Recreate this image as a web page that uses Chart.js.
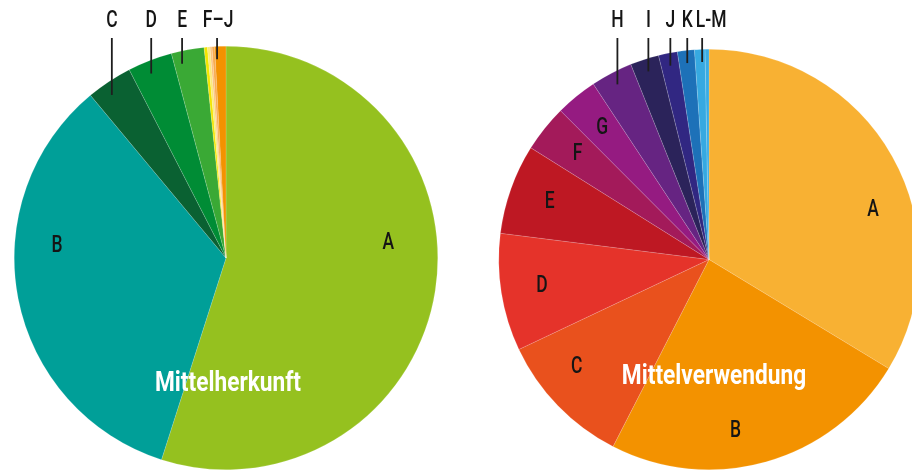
<!DOCTYPE html>
<html>
<head>
<meta charset="utf-8">
<script src="https://cdn.jsdelivr.net/npm/chart.js@4/dist/chart.umd.min.js"></script>
<style>
  html, body { margin: 0; padding: 0; background: #fff; }
  body { width: 912px; height: 470px; overflow: hidden; position: relative; }
  .pie { position: absolute; top: 0; width: 452px; height: 470px; }
  #left { left: 0; }
  #right { left: 483px; }
</style>
</head>
<body>
<div class="pie" id="left"><canvas id="herkunftChart"></canvas></div>
<div class="pie" id="right"><canvas id="verwendungChart"></canvas></div>

<script>
// ===== Mittelherkunft / Mittelverwendung =====

// left pie: Mittelherkunft (share in %)
const herkunftLabels = ["A", "B", "C", "D", "E", "F", "G", "H", "I", "J"];
const herkunftValues = [54.9, 34.0, 3.5, 3.4, 2.5, 0.25, 0.2, 0.15, 0.2, 0.85];
const herkunftColors = ["#95c11f", "#009f98", "#0a6132", "#008c35", "#3aa935",
                        "#f2e500", "#fbea7a", "#fbc27a", "#f8ab4f", "#f39200"];
const herkunftInside = ["A", "B"];
const herkunftTop = ["C", "D", "E", "F–J"];
const herkunftTopGroups = [["C"], ["D"], ["E"], ["F", "G", "H", "I", "J"]];

// right pie: Mittelverwendung
const verwendungLabels = ["A", "B", "C", "D", "E", "F", "G", "H", "I", "J", "K", "L", "M"];
const verwendungValues = [33.6, 23.8, 10.4, 9.0, 6.9, 3.6, 3.2, 3.2, 2.2, 1.45, 1.3, 0.8, 0.3];
const verwendungColors = ["#f8b133", "#f39200", "#e9511d", "#e5332a", "#be1823", "#a31a5a",
                          "#951b81", "#662482", "#2b235a", "#312782", "#1d71b8", "#36a9e1", "#3aace2"];
const verwendungInside = ["A", "B", "C", "D", "E", "F", "G"];
const verwendungTop = ["H", "I", "J", "K", "L-M"];
const verwendungTopGroups = [["H"], ["I"], ["J"], ["K"], ["L", "M"]];

const LABEL_FONT = '500 23px Roboto, "DejaVu Sans", sans-serif';
const TITLE_FONT = 'bold 27px Roboto, "DejaVu Sans", sans-serif';
const LABEL_SQUEEZE = 0.76; // narrow the text like a condensed face
const TITLE_SQUEEZE = 0.84;

function narrowText(ctx, text, x, y, squeeze) {
  ctx.save();
  ctx.translate(x, y);
  ctx.scale(squeeze, 1);
  ctx.fillText(text, 0, 0);
  ctx.restore();
}

// label plugin: inner letters, top labels with leader lines, white title
const pieLabels = {
  id: "pieLabels",
  afterDatasetsDraw(chart, args, opts) {
    const ctx = chart.ctx;
    const meta = chart.getDatasetMeta(0);
    const labels = chart.data.labels;
    const arcs = meta.data;
    const cx = arcs[0].x, cy = arcs[0].y, R = arcs[0].outerRadius;

    ctx.save();
    ctx.fillStyle = "#151515";
    ctx.textAlign = "center";
    ctx.textBaseline = "middle";
    ctx.font = LABEL_FONT;

    // letters inside the slices
    opts.inside.forEach(function (name, k) {
      const arc = arcs[labels.indexOf(name)];
      const nudge = (opts.nudge[k] || 0) * Math.PI / 180;
      const a = (arc.startAngle + arc.endAngle) / 2 + nudge;
      const r = R * (opts.insideRadius[k] || 0.805);
      narrowText(ctx, name, cx + r * Math.cos(a), cy + r * Math.sin(a), LABEL_SQUEEZE);
    });

    // top labels with leader lines
    ctx.strokeStyle = "#1e1e1e";
    ctx.lineWidth = 1.8;
    opts.top.forEach(function (name, k) {
      const group = opts.groups[k].map(function (g) { return arcs[labels.indexOf(g)]; });
      const start = group[0].startAngle;
      const end = group[group.length - 1].endAngle;
      const a = (start + end) / 2 + (opts.lineNudge[k] || 0) * Math.PI / 180;
      const ex = cx + R * 0.94 * Math.cos(a);
      const ey = cy + R * 0.94 * Math.sin(a);
      ctx.beginPath();
      ctx.moveTo(ex, 38);
      ctx.lineTo(ex, ey);
      ctx.stroke();
      narrowText(ctx, name, ex + (opts.topDx[k] || 0), 21, LABEL_SQUEEZE);
    });

    // title
    ctx.fillStyle = "#ffffff";
    ctx.font = TITLE_FONT;
    narrowText(ctx, opts.title, cx + opts.titleDx, cy + R * opts.titleDy, TITLE_SQUEEZE);
    ctx.restore();
  }
};

function makePie(id, labels, values, colors, padTop, labelOpts) {
  const ctx = document.getElementById(id).getContext("2d");
  return new Chart(ctx, {
    type: "pie",
    data: {
      labels: labels,
      datasets: [
        {
          data: values,
          backgroundColor: colors,
          borderColor: "rgba(255,255,255,0.3)",
          borderWidth: 0.5,
          clip: false,
        },
      ],
    },
    options: {
      responsive: true,
      maintainAspectRatio: false,
      animation: false,
      events: [],
      layout: { padding: { top: padTop, bottom: 0, left: 0, right: 0 } },
      plugins: {
        legend: { display: false },
        tooltip: { enabled: false },
        pieLabels: labelOpts,
      },
    },
    plugins: [pieLabels],
  });
}

makePie("herkunftChart", herkunftLabels, herkunftValues, herkunftColors, 46, {
  inside: herkunftInside,
  nudge: [-14, 15],
  insideRadius: [0.77, 0.8],
  top: herkunftTop,
  lineNudge: [-1.5, -1, -2.3, 0.4],
  topDx: [0, 0, 0, 1],
  groups: herkunftTopGroups,
  title: "Mittelherkunft",
  titleDx: 2,
  titleDy: 0.595,
});

makePie("verwendungChart", verwendungLabels, verwendungValues, verwendungColors, 49, {
  inside: verwendungInside,
  nudge: [12.5, 7, 5, 0, 0, 0, 0],
  insideRadius: [0.815, 0.825, 0.81, 0.805, 0.805, 0.8, 0.805],
  top: verwendungTop,
  lineNudge: [0, 0, 0, 0, 0],
  topDx: [0, 0, 0, 0, 9],
  groups: verwendungTopGroups,
  title: "Mittelverwendung",
  titleDx: 5,
  titleDy: 0.56,
});
</script>
</body>
</html>
